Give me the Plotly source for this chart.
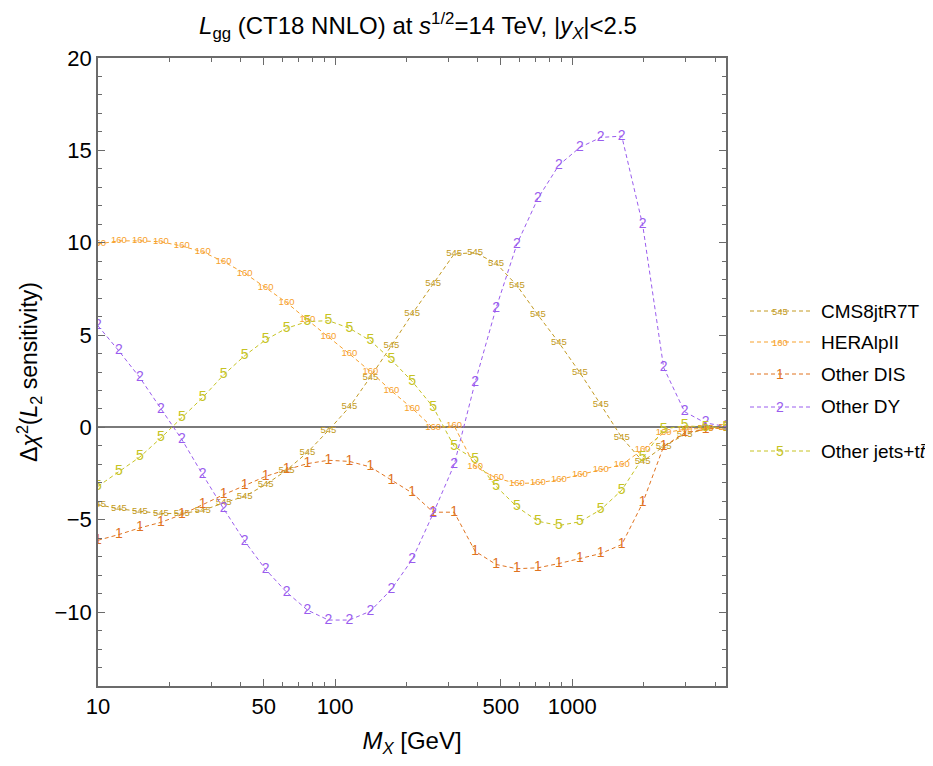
import plotly.graph_objects as go

# ---- data ----
mx = [10.0, 12.25, 15.02, 18.41, 22.56, 27.65, 33.88, 41.52, 50.89, 62.37,
      76.43, 93.68, 114.8, 140.7, 172.5, 211.3, 259.0, 317.5, 389.0, 476.8,
      584.4, 716.1, 877.7, 1076, 1318, 1616, 1980, 2427, 2974, 3645, 4467]

cms8jtr7t = [-4.18, -4.41, -4.54, -4.66, -4.66, -4.49, -4.09, -3.73, -3.10, -2.32,
             -1.35, -0.16, 1.10, 2.72, 4.42, 6.15, 7.77, 9.39, 9.46, 8.89,
             7.68, 6.09, 4.59, 2.97, 1.23, -0.55, -1.84, -1.03, -0.39, -0.09, 0.0]

heralpII = [9.93, 10.1, 10.1, 10.05, 9.82, 9.5, 8.97, 8.35, 7.57, 6.76,
            5.82, 4.92, 3.98, 3.03, 1.98, 1.03, -0.03, 0.09, -2.12, -2.74,
            -3.04, -3.0, -2.83, -2.56, -2.29, -2.02, -1.2, -0.3, -0.1, -0.05, 0.0]

other_dis = [-6.11, -5.8, -5.44, -5.14, -4.72, -4.18, -3.64, -3.15, -2.65, -2.29,
             -1.96, -1.78, -1.84, -2.14, -2.86, -3.55, -4.59, -4.59, -6.7, -7.42,
             -7.65, -7.6, -7.37, -7.11, -6.83, -6.34, -4.09, -1.03, -0.3, -0.1, 0.0]

other_dy = [5.5, 4.14, 2.69, 0.99, -0.65, -2.56, -4.41, -6.16, -7.69, -8.92,
            -9.89, -10.43, -10.43, -9.95, -8.77, -7.15, -4.66, -2.02, 2.43, 6.45,
            9.93, 12.4, 14.2, 15.16, 15.7, 15.77, 10.96, 3.24, 0.85, 0.24, 0.05]

other_jets = [-3.19, -2.41, -1.6, -0.57, 0.51, 1.62, 2.85, 3.88, 4.74, 5.37,
              5.73, 5.78, 5.37, 4.7, 3.66, 2.49, 1.1, -1.03, -1.75, -3.19,
              -4.3, -5.08, -5.31, -5.11, -4.45, -3.4, -1.65, -0.09, 0.09, 0.02, 0.0]

series_names = ["CMS8jtR7T", "HERAlpII", "Other DIS", "Other DY", "Other jets+t<i>t\u0304</i>"]
series_marks = ["545", "160", "1", "2", "5"]
series_vals = [cms8jtr7t, heralpII, other_dis, other_dy, other_jets]

x_ticks = [10, 50, 100, 500, 1000]
x_minor = [20, 30, 40, 60, 70, 80, 90, 200, 300, 400, 600, 700, 800, 900, 2000, 3000, 4000]
y_ticks = [-10, -5, 0, 5, 10, 15, 20]

# ---- styling ----
colors = ["#C39A22", "#F7A12C", "#E0731F", "#9A5CEE", "#C6C322"]
mark_sizes = [9.5, 9.5, 14, 14, 14]
FONT = "Liberation Sans, Arial, Helvetica, sans-serif"
OFF = 8  # page body margin in the browser
W, H = 933 - OFF, 766 - OFF
ML, MT = 98 - OFF, 58 - OFF
PW, PH = 628, 628
MR, MB = W - ML - PW, H - MT - PH


def px_to_paper(px, py):
    # px, py are screen pixels in the 933x766 window
    return (px - OFF - ML) / PW, (MT + PH - (py - OFF)) / PH


fig = go.Figure()
for name, mark, vals, col, ms in zip(series_names, series_marks, series_vals, colors, mark_sizes):
    fig.add_trace(go.Scatter(
        x=mx, y=vals, mode="lines+text", name=name,
        text=[mark] * len(mx), textposition="middle center",
        textfont=dict(family=FONT, size=ms, color=col),
        line=dict(color=col, width=1, dash="4px,3px"),
        showlegend=False, cliponaxis=True, hoverinfo="skip",
    ))

# manual legend
leg_y = [311, 342, 374, 407, 451]
shapes = []
annotations = []
for name, mark, col, ms, ly in zip(series_names, series_marks, colors, mark_sizes, leg_y):
    x0, y0 = px_to_paper(750, ly)
    x1, _ = px_to_paper(810, ly)
    shapes.append(dict(type="line", xref="paper", yref="paper", x0=x0, x1=x1, y0=y0, y1=y0,
                       line=dict(color=col, width=1, dash="4px,3px")))
    xm, _ = px_to_paper(780, ly)
    annotations.append(dict(xref="paper", yref="paper", x=xm, y=y0, text=mark, showarrow=False,
                            font=dict(family=FONT, size=ms, color=col), xanchor="center", yanchor="middle"))
    xt, _ = px_to_paper(819, ly)
    annotations.append(dict(xref="paper", yref="paper", x=xt, y=y0, text=name, showarrow=False,
                            font=dict(family=FONT, size=19, color="black"), xanchor="left", yanchor="middle"))

axis_col = "#6b6b6b"
fig.update_layout(
    width=W, height=H,
    margin=dict(l=ML, r=MR, t=MT, b=MB),
    paper_bgcolor="white", plot_bgcolor="white",
    font=dict(family=FONT, color="black"),
    title=dict(text="<i>L</i><sub>gg</sub> (CT18 NNLO) at <i>s</i><sup>1/2</sup>=14 TeV, |<i>y</i><sub><i>X</i></sub>|&lt;2.5",
               x=(418 - OFF) / W, xanchor="center", y=1 - (26 - OFF) / H, yanchor="middle",
               font=dict(family=FONT, size=24)),
    xaxis=dict(type="log", range=[1, 3.648], tickmode="array", tickvals=x_ticks,
               ticktext=[str(v) for v in x_ticks],
               ticks="inside", ticklen=7, tickwidth=1, tickcolor=axis_col,
               minor=dict(tickmode="array", tickvals=x_minor, ticks="inside", ticklen=4,
                          tickwidth=1, tickcolor=axis_col, showgrid=False),
               showline=True, linecolor=axis_col, linewidth=1.5, mirror="allticks",
               showgrid=False, zeroline=False,
               tickfont=dict(family=FONT, size=22),
               title=dict(text="<i>M</i><sub><i>X</i></sub> [GeV]", font=dict(family=FONT, size=24), standoff=14)),
    yaxis=dict(range=[-14, 20], tickmode="array", tickvals=y_ticks,
               ticktext=["\u221210", "\u22125", "0", "5", "10", "15", "20"],
               ticks="inside", ticklen=7, tickwidth=1, tickcolor=axis_col,
               minor=dict(dtick=1, ticks="inside", ticklen=4, tickwidth=1, tickcolor=axis_col, showgrid=False),
               showline=True, linecolor=axis_col, linewidth=1.5, mirror="allticks",
               showgrid=False, zeroline=True, zerolinecolor="#7a7a7a", zerolinewidth=1.5,
               tickfont=dict(family=FONT, size=22),
               title=dict(text="\u0394<i>\u03c7</i><sup>2</sup>(<i>L</i><sub>2</sub> sensitivity)",
                          font=dict(family=FONT, size=23), standoff=10)),
    shapes=shapes, annotations=annotations,
)

fig.write_html("out.html")
